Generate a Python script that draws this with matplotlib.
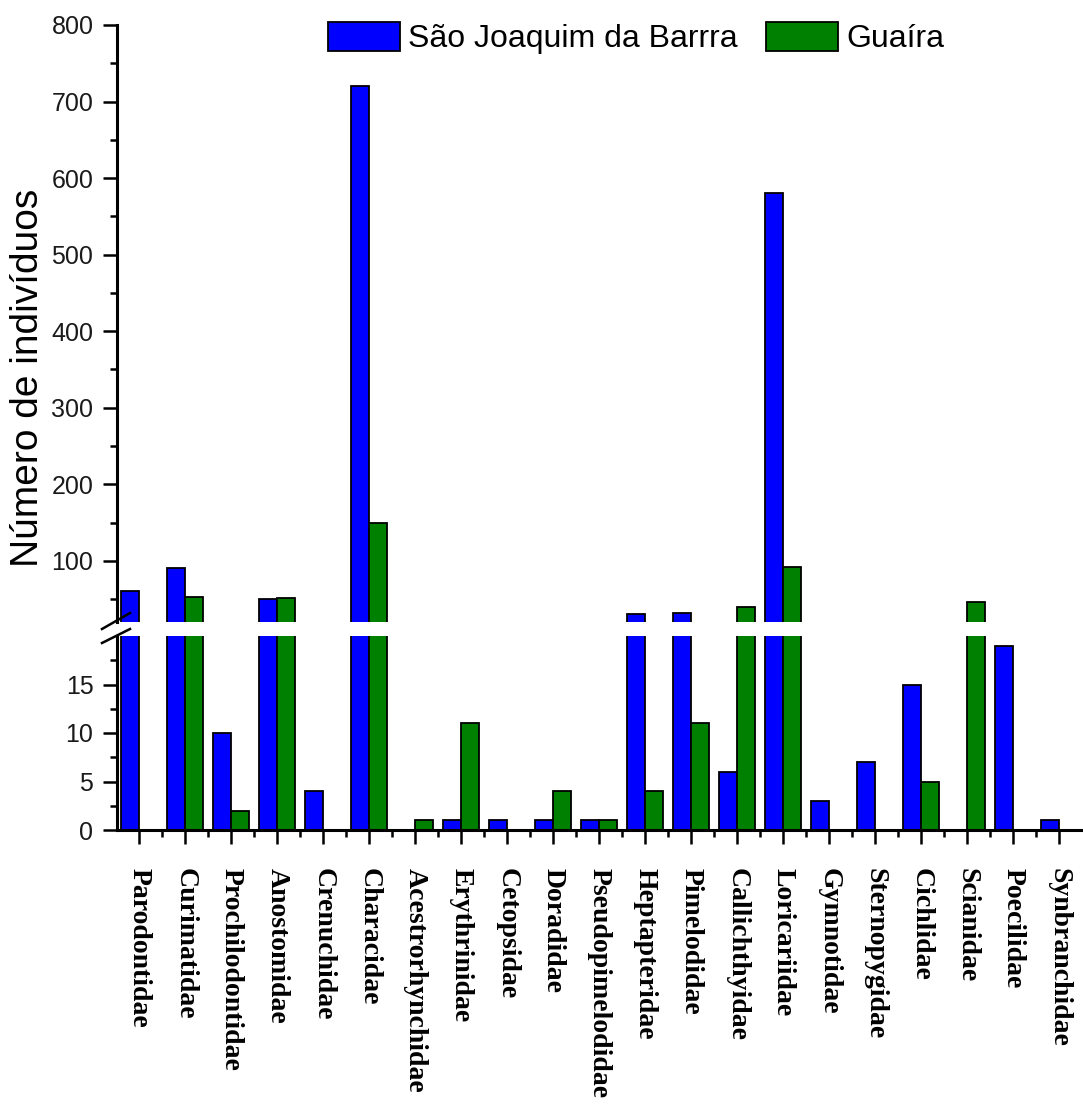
import numpy as np
import matplotlib
matplotlib.use("Agg")
import matplotlib.pyplot as plt
from matplotlib.lines import Line2D
from matplotlib.ticker import FixedLocator

familias = ["Parodontidae", "Curimatidae", "Prochilodontidae", "Anostomidae",
            "Crenuchidae", "Characidae", "Acestrorhynchidae", "Erythrinidae",
            "Cetopsidae", "Doradidae", "Pseudopimelodidae", "Heptapteridae",
            "Pimelodidae", "Callichthyidae", "Loricariidae", "Gymnotidae",
            "Sternopygidae", "Cichlidae", "Scianidae", "Poecilidae",
            "Synbranchidae"]
sao_joaquim = [61, 90, 10, 50, 4, 720, 0, 1, 1, 1, 1, 30, 32, 6, 580, 3, 7, 15, 0, 19, 1]
guaira = [0, 53, 2, 52, 0, 150, 1, 11, 0, 4, 1, 4, 11, 39, 92, 0, 0, 5, 46, 0, 0]

W, H = 1083, 1104
plt.rcParams['font.family'] = ['Liberation Sans', 'DejaVu Sans']

fig = plt.figure(figsize=(W / 100, H / 100), dpi=100)

def px_rect(x0, y0, x1, y1):
    # pixel box (top-left origin) -> figure fraction rect
    return [x0 / W, 1 - y1 / H, (x1 - x0) / W, (y1 - y0) / H]

ax_top = fig.add_axes(px_rect(117, 25, 1083, 622))
ax_bot = fig.add_axes(px_rect(117, 636, 1083, 830))

x = np.arange(len(familias))
bw = 0.4
for ax in (ax_top, ax_bot):
    ax.bar(x - bw, sao_joaquim, bw, align='edge', color='#0000ff',
           edgecolor='black', linewidth=1.3, label='São Joaquim da Barrra')
    ax.bar(x, guaira, bw, align='edge', color='#008000',
           edgecolor='black', linewidth=1.3, label='Guaíra')
    ax.set_xlim(-0.48, 20.52)
    for s in ('top', 'right'):
        ax.spines[s].set_visible(False)
    ax.spines['left'].set_linewidth(2.2)
    ax.spines['bottom'].set_linewidth(2.2)
    ax.tick_params(axis='y', which='major', direction='out', length=10,
                   width=1.8, labelsize=18, labelcolor='#1a1a1a', pad=7)
    ax.tick_params(axis='y', which='minor', direction='out', length=5, width=1.8)

ax_top.set_ylim(20, 800)
ax_top.yaxis.set_major_locator(FixedLocator(np.arange(100, 801, 100)))
ax_top.yaxis.set_minor_locator(FixedLocator(np.arange(50, 751, 100)))
ax_top.spines['bottom'].set_visible(False)
ax_top.tick_params(axis='x', which='both', bottom=False, labelbottom=False)

ax_bot.set_ylim(0, 20)
ax_bot.yaxis.set_major_locator(FixedLocator([0, 5, 10, 15]))
ax_bot.yaxis.set_minor_locator(FixedLocator([2.5, 7.5, 12.5, 17.5]))

ax_bot.set_xticks(x)
ax_bot.xaxis.set_minor_locator(FixedLocator(x[:-1] + 0.5))
ax_bot.set_xticklabels(familias, rotation=270, ha='center', va='top',
                       family='Liberation Serif', fontweight='bold', fontsize=20)
ax_bot.tick_params(axis='x', which='major', direction='out', length=10,
                   width=1.8, pad=17)
ax_bot.tick_params(axis='x', which='minor', direction='out', length=5, width=1.8)

# break marks on the y axis
for y0, y1 in ((629, 613), (643, 629)):
    fig.add_artist(Line2D([102 / W, 130 / W], [1 - y0 / H, 1 - y1 / H],
                          transform=fig.transFigure, color='black', lw=1.8))

fig.text(28 / W, 1 - 378 / H, 'Número de indivíduos', rotation=90,
         ha='center', va='center', fontsize=28)

ax_top.legend(loc='upper left', bbox_to_anchor=(328 / W, 1 - 22 / H),
              bbox_transform=fig.transFigure, ncol=2, frameon=False,
              fontsize=23, handlelength=2.25, handleheight=1.0,
              handletextpad=0.25, columnspacing=0.9, borderpad=0,
              borderaxespad=0)

fig.savefig('out.png', dpi=100)
